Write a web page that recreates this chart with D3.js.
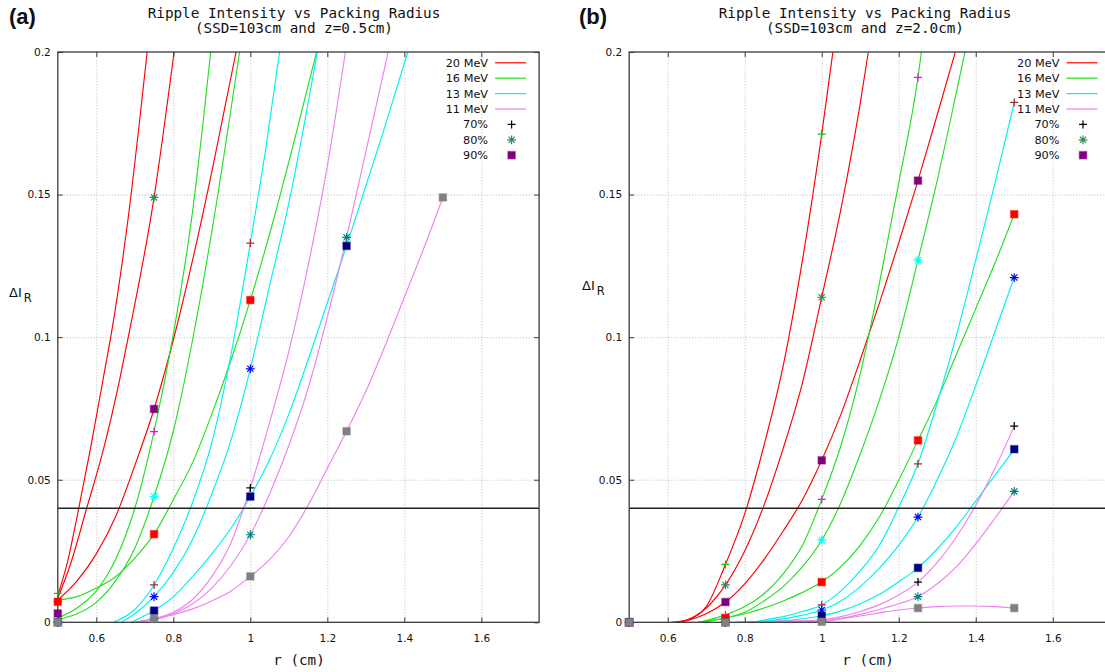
<!DOCTYPE html>
<html><head><meta charset="utf-8">
<script src="https://cdn.jsdelivr.net/npm/d3@7"></script>
<style>body{margin:0;background:#fff}svg{display:block}</style>
</head><body>
<svg id="c" width="1105" height="672"></svg>
<script>
// ---------- categories / ticks ----------
const energies = ["20 MeV", "16 MeV", "13 MeV", "11 MeV"];
const percents = ["70%", "80%", "90%"];
const rPoints = [0.5, 0.75, 1.0, 1.25, 1.5];
const xTicks = [0.6, 0.8, 1.0, 1.2, 1.4, 1.6];
const xTickLabels = ["0.6", "0.8", "1", "1.2", "1.4", "1.6"];
const yTicks = [0, 0.05, 0.1, 0.15, 0.2];
const yTickLabels = ["0", "0.05", "0.1", "0.15", "0.2"];
const xDomain = [0.5, 1.75];
const yDomain = [0, 0.2];
const thresholdValue = 0.04;

// ---------- panel (a): measured points (r = 0.5, 0.75, 1.0, 1.25, 1.5; null = above 0.2) ----------
const a20_70 = [0.0101, null, null, null, null];
const a20_80 = [0.0072, 0.149, null, null, null];
const a20_90 = [0.0031, 0.0748, null, null, null];
const a16_70 = [0, 0.0669, null, null, null];
const a16_80 = [0, 0.0441, null, null, null];
const a16_90 = [0.0072, 0.0309, 0.113, null, null];
const a13_70 = [0, 0.0131, 0.133, null, null];
const a13_80 = [0, 0.0090, 0.0889, null, null];
const a13_90 = [0, 0.0041, 0.0441, 0.132, null];
const a11_70 = [0, 0.0012, 0.0471, null, null];
const a11_80 = [0, 0.0012, 0.0307, 0.135, null];
const a11_90 = [0, 0.0013, 0.0161, 0.067, 0.149];

// ---------- panel (a): curves [r, dI] ----------
const la20_70 = [[0.5,0.0095],[0.525,0.021],[0.55,0.037],[0.585,0.061],[0.62,0.087],[0.64,0.102],[0.682,0.141],[0.732,0.2]];
const la20_80 = [[0.5,0.0085],[0.532,0.02],[0.575,0.04],[0.618,0.0604],[0.66,0.0847],[0.683,0.1],[0.75,0.149],[0.802,0.2]];
const la20_90 = [[0.5,0.0078],[0.55,0.0145],[0.6,0.024],[0.65,0.037],[0.7,0.055],[0.75,0.0748],[0.8,0.099],[0.85,0.127],[0.9,0.158],[0.963,0.2]];
const la16_70 = [[0.5,0.0015],[0.55,0.005],[0.6,0.011],[0.65,0.022],[0.7,0.04],[0.75,0.0669],[0.8,0.101],[0.85,0.144],[0.897,0.2]];
const la16_80 = [[0.5,0.001],[0.55,0.003],[0.6,0.007],[0.65,0.0145],[0.7,0.026],[0.75,0.0441],[0.8,0.067],[0.85,0.099],[0.9,0.137],[0.972,0.2]];
const la16_90 = [[0.5,0.0078],[0.55,0.009],[0.6,0.012],[0.65,0.016],[0.7,0.0225],[0.75,0.0309],[0.8,0.043],[0.85,0.056],[0.9,0.073],[0.95,0.092],[1.0,0.113],[1.06,0.141],[1.12,0.172],[1.172,0.2]];
const la13_70 = [[0.645,0],[0.7,0.0045],[0.75,0.0131],[0.8,0.026],[0.85,0.042],[0.9,0.063],[0.95,0.094],[1.0,0.133],[1.04,0.166],[1.076,0.2]];
const la13_80 = [[0.665,0],[0.7,0.003],[0.75,0.009],[0.8,0.0175],[0.85,0.029],[0.9,0.045],[0.95,0.064],[1.0,0.0889],[1.05,0.118],[1.1,0.147],[1.174,0.2]];
const la13_90 = [[0.69,0],[0.75,0.0041],[0.8,0.009],[0.85,0.016],[0.9,0.024],[0.95,0.033],[1.0,0.0441],[1.05,0.057],[1.1,0.073],[1.15,0.092],[1.2,0.112],[1.25,0.132],[1.3,0.153],[1.35,0.174],[1.409,0.2]];
const la11_70 = [[0.7,0],[0.75,0.0012],[0.8,0.0035],[0.85,0.008],[0.9,0.016],[0.95,0.028],[1.0,0.0471],[1.05,0.070],[1.1,0.095],[1.15,0.125],[1.2,0.16],[1.247,0.2]];
const la11_80 = [[0.7,0],[0.75,0.0008],[0.8,0.003],[0.85,0.0065],[0.9,0.012],[0.95,0.020],[1.0,0.0307],[1.05,0.045],[1.1,0.062],[1.15,0.082],[1.2,0.107],[1.25,0.135],[1.3,0.165],[1.358,0.2]];
const la11_90 = [[0.7,0],[0.75,0.0013],[0.8,0.0027],[0.85,0.0047],[0.9,0.0075],[0.95,0.011],[1.0,0.0161],[1.05,0.022],[1.1,0.030],[1.15,0.041],[1.2,0.054],[1.25,0.067],[1.3,0.081],[1.35,0.097],[1.4,0.114],[1.45,0.131],[1.5,0.149]];

// ---------- panel (b): measured points ----------
const b20_70 = [0, 0.0203, 0.1712, null, null];
const b20_80 = [0, 0.0131, 0.114, null, null];
const b20_90 = [0, 0.0071, 0.0568, 0.1549, null];
const b16_70 = [0, 0.0026, 0.0431, 0.1911, null];
const b16_80 = [0, 0.0015, 0.0288, 0.127, null];
const b16_90 = [0, 0.0015, 0.0141, 0.0638, 0.1431];
const b13_70 = [0, 0, 0.0061, 0.0556, 0.1823];
const b13_80 = [0, 0, 0.0043, 0.0369, 0.1209];
const b13_90 = [0, 0, 0.0023, 0.0191, 0.0607];
const b11_70 = [0, 0, 0.0008, 0.0141, 0.0688];
const b11_80 = [0, 0, 0.0005, 0.009, 0.0459];
const b11_90 = [0, 0, 0.0002, 0.005, 0.005];

// ---------- panel (b): curves ----------
const lb20_70 = [[0.61,0],[0.65,0.0008],[0.7,0.0055],[0.75,0.0203],[0.8,0.038],[0.85,0.062],[0.9,0.09],[0.95,0.127],[1.0,0.1712],[1.029,0.2]];
const lb20_80 = [[0.62,0],[0.65,0.0008],[0.7,0.005],[0.75,0.0131],[0.8,0.025],[0.85,0.041],[0.9,0.061],[0.95,0.084],[1.0,0.114],[1.05,0.145],[1.1,0.182],[1.121,0.2]];
const lb20_90 = [[0.62,0],[0.65,0.0006],[0.7,0.003],[0.75,0.0071],[0.8,0.0135],[0.85,0.022],[0.9,0.032],[0.95,0.043],[1.0,0.0568],[1.05,0.073],[1.1,0.092],[1.15,0.112],[1.2,0.133],[1.25,0.1549],[1.3,0.178],[1.347,0.2]];
const lb16_70 = [[0.68,0],[0.7,0.0006],[0.75,0.0026],[0.8,0.0055],[0.85,0.010],[0.9,0.017],[0.95,0.027],[1.0,0.0431],[1.05,0.062],[1.1,0.087],[1.15,0.119],[1.2,0.154],[1.25,0.1911],[1.259,0.2]];
const lb16_80 = [[0.68,0],[0.7,0.0004],[0.75,0.0015],[0.8,0.0035],[0.85,0.0075],[0.9,0.0125],[0.95,0.0195],[1.0,0.0288],[1.05,0.042],[1.1,0.059],[1.15,0.078],[1.2,0.1],[1.25,0.127],[1.3,0.155],[1.35,0.186],[1.372,0.2]];
const lb16_90 = [[0.68,0],[0.7,0.0003],[0.75,0.0015],[0.8,0.003],[0.85,0.005],[0.9,0.0075],[0.95,0.0105],[1.0,0.0141],[1.05,0.0195],[1.1,0.027],[1.15,0.037],[1.2,0.0498],[1.25,0.0638],[1.3,0.078],[1.35,0.094],[1.4,0.110],[1.45,0.126],[1.5,0.1431]];
const lb13_70 = [[0.82,0],[0.85,0.0008],[0.9,0.002],[0.95,0.0038],[1.0,0.0061],[1.05,0.011],[1.1,0.018],[1.15,0.027],[1.2,0.0404],[1.25,0.0556],[1.3,0.077],[1.354,0.1027],[1.4,0.127],[1.45,0.154],[1.5,0.1823]];
const lb13_80 = [[0.82,0],[0.9,0.0012],[0.95,0.0025],[1.0,0.0043],[1.05,0.0075],[1.1,0.0125],[1.15,0.019],[1.2,0.027],[1.25,0.0369],[1.3,0.05],[1.35,0.065],[1.4,0.083],[1.45,0.102],[1.5,0.1209]];
const lb13_90 = [[0.82,0],[0.9,0.0005],[1.0,0.0023],[1.05,0.004],[1.1,0.0065],[1.15,0.0098],[1.2,0.0142],[1.25,0.0191],[1.3,0.0257],[1.35,0.0335],[1.4,0.0425],[1.45,0.0515],[1.5,0.0607]];
const lb11_70 = [[0.78,0],[0.9,0.0004],[1.0,0.0008],[1.05,0.002],[1.1,0.0038],[1.15,0.0062],[1.2,0.0096],[1.25,0.0141],[1.3,0.021],[1.35,0.030],[1.4,0.041],[1.45,0.054],[1.5,0.0688]];
const lb11_80 = [[0.78,0],[0.9,0.0003],[1.0,0.0005],[1.05,0.0014],[1.1,0.0028],[1.15,0.0045],[1.2,0.0065],[1.25,0.009],[1.3,0.0135],[1.35,0.0195],[1.4,0.0275],[1.45,0.0365],[1.5,0.0459]];
const lb11_90 = [[0.78,0],[0.9,0.0001],[1.0,0.0002],[1.05,0.0012],[1.1,0.0022],[1.15,0.0033],[1.2,0.0043],[1.25,0.005],[1.3,0.0055],[1.35,0.0057],[1.4,0.0057],[1.45,0.0055],[1.5,0.005]];

// ---------- styles ----------
const energyColors = ["#ff0000", "#22e022", "#00f0f0", "#ee82ee"];
const markerColors70 = ["#00cc00", "#ff00ff", "#a52a2a", "#000000"];
const markerColors80 = ["#2e8b57", "#00ffff", "#0000ff", "#008080"];
const markerColors90 = ["#800080", "#ff0000", "#000080", "#808080"];
const legendMarkerColors = ["#000000", "#2e8b57", "#800080"];
const markerShapes = ["plus", "star", "square"];

const svg = d3.select("#c");
svg.append("rect").attr("width", 1105).attr("height", 672).attr("fill", "#fff");
const defs = svg.append("defs");

const yTop = 52, yBot = 622.3;

function marker(g, shape, color) {
  if (shape === "plus") {
    g.append("path").attr("d", "M-4,0H4M0,-4V4").attr("stroke", color).attr("stroke-width", 1.25).attr("fill", "none");
  } else if (shape === "star") {
    g.append("path").attr("d", "M-4.4,0H4.4M0,-4.4V4.4M-3.1,-3.1L3.1,3.1M-3.1,3.1L3.1,-3.1").attr("stroke", color).attr("stroke-width", 1.15).attr("fill", "none");
  } else {
    g.append("rect").attr("x", -3.7).attr("y", -3.7).attr("width", 7.4).attr("height", 7.4)
      .attr("fill", color).attr("stroke", color).attr("stroke-opacity", 0.4).attr("stroke-width", 1.4);
  }
}

function drawPanel(cfg) {
  const x = d3.scaleLinear().domain(xDomain).range([cfg.x0, cfg.x1]);
  const y = d3.scaleLinear().domain(yDomain).range([yBot, yTop]);
  const g = svg.append("g");
  const clipId = "clip" + cfg.id;
  defs.append("clipPath").attr("id", clipId).append("rect")
    .attr("x", x(xDomain[0])).attr("y", y(yDomain[1]))
    .attr("width", x(xDomain[1]) - x(xDomain[0])).attr("height", y(yDomain[0]) - y(yDomain[1]));

  // grid
  g.append("g").attr("transform", `translate(0,${yBot})`)
    .call(d3.axisBottom(x).tickValues(xTicks).tickSize(-(yBot - yTop)).tickFormat(""))
    .call(s => { s.select(".domain").remove(); s.selectAll("line").attr("stroke", "#bdbdbd").attr("stroke-dasharray", "1,2"); });
  g.append("g").attr("transform", `translate(${cfg.x0},0)`)
    .call(d3.axisLeft(y).tickValues(yTicks.slice(1, -1)).tickSize(-(x(xDomain[1]) - cfg.x0)).tickFormat(""))
    .call(s => { s.select(".domain").remove(); s.selectAll("line").attr("stroke", "#bdbdbd").attr("stroke-dasharray", "1,2"); });

  // curves
  const lineGen = d3.line().x(d => x(d[0])).y(d => y(d[1])).curve(d3.curveMonotoneX);
  const lg = g.append("g").attr("clip-path", `url(#${clipId})`);
  cfg.curves.forEach((set, ei) => {
    set.forEach(data => {
      lg.append("path").attr("d", lineGen(data)).attr("fill", "none")
        .attr("stroke", energyColors[ei]).attr("stroke-width", 1.15);
    });
  });

  // threshold line
  g.append("line").attr("x1", x(xDomain[0])).attr("x2", x(xDomain[1]))
    .attr("y1", y(thresholdValue)).attr("y2", y(thresholdValue))
    .attr("stroke", "#222").attr("stroke-width", 1.3);

  // border
  g.append("rect").attr("x", x(xDomain[0])).attr("y", y(yDomain[1]))
    .attr("width", x(xDomain[1]) - x(xDomain[0])).attr("height", y(yDomain[0]) - y(yDomain[1]))
    .attr("fill", "none").attr("stroke", "#3a3a3a").attr("stroke-width", 1.3);

  // axes
  const styleAxis = s => {
    s.select(".domain").remove();
    s.selectAll("line").attr("stroke", "#3a3a3a");
    s.selectAll("text").attr("font-family", "DejaVu Sans, Verdana, sans-serif").attr("font-size", 10.5).attr("fill", "#111");
  };
  g.append("g").attr("transform", `translate(0,${yBot})`)
    .call(d3.axisBottom(x).tickValues(xTicks).tickFormat((d, i) => xTickLabels[i]).tickSizeInner(-5).tickSizeOuter(0).tickPadding(12))
    .call(styleAxis);
  g.append("g").attr("transform", `translate(0,${yTop})`)
    .call(d3.axisTop(x).tickValues(xTicks).tickFormat("").tickSizeInner(-5).tickSizeOuter(0))
    .call(styleAxis);
  g.append("g").attr("transform", `translate(${cfg.x0},0)`)
    .call(d3.axisLeft(y).tickValues(yTicks).tickFormat((d, i) => yTickLabels[i]).tickSizeInner(-5).tickSizeOuter(0).tickPadding(7))
    .call(styleAxis);
  g.append("g").attr("transform", `translate(${x(xDomain[1])},0)`)
    .call(d3.axisRight(y).tickValues(yTicks).tickFormat("").tickSizeInner(-5).tickSizeOuter(0))
    .call(styleAxis);

  // markers (70% set, then 80%, then 90%)
  const mg = g.append("g");
  const colorSets = [markerColors70, markerColors80, markerColors90];
  percents.forEach((p, pi) => {
    cfg.points.forEach((row, ei) => {
      row[pi].forEach((v, k) => {
        if (v === null) return;
        const m = mg.append("g").attr("transform", `translate(${x(rPoints[k])},${y(v)})`);
        marker(m, markerShapes[pi], colorSets[pi][ei]);
      });
    });
  });

  // legend
  const right = x(xDomain[1]);
  const leg = g.append("g").attr("font-family", "DejaVu Sans, Verdana, sans-serif").attr("font-size", 11.3).attr("fill", "#111");
  const rowY = i => yTop + 10.8 + i * 15.4;
  energies.forEach((e, i) => {
    leg.append("text").attr("x", right - 51).attr("y", rowY(i) + 4).attr("text-anchor", "end").text(e);
    leg.append("line").attr("x1", right - 44).attr("x2", right - 13).attr("y1", rowY(i)).attr("y2", rowY(i))
      .attr("stroke", energyColors[i]).attr("stroke-width", 1.2);
  });
  percents.forEach((p, i) => {
    const r = energies.length + i;
    leg.append("text").attr("x", right - 51).attr("y", rowY(r) + 4).attr("text-anchor", "end").text(p);
    const m = leg.append("g").attr("transform", `translate(${right - 27.5},${rowY(r)})`);
    marker(m, markerShapes[i], legendMarkerColors[i]);
  });

  // titles and labels
  const mono = "DejaVu Sans Mono, Liberation Mono, monospace";
  svg.append("text").attr("x", cfg.titleX).attr("y", 18).attr("text-anchor", "middle")
    .attr("font-family", mono).attr("font-size", 14.3).attr("fill", "#111").text(cfg.title1);
  svg.append("text").attr("x", cfg.titleX).attr("y", 33).attr("text-anchor", "middle")
    .attr("font-family", mono).attr("font-size", 14.3).attr("fill", "#111").text(cfg.title2);
  svg.append("text").attr("x", cfg.xlabelX).attr("y", 665).attr("text-anchor", "middle")
    .attr("font-family", mono).attr("font-size", 14.3).attr("fill", "#111").text("r (cm)");
  svg.append("text").attr("x", cfg.tagX).attr("y", 23.5)
    .attr("font-family", "Liberation Sans, Arial, sans-serif").attr("font-weight", "bold")
    .attr("font-size", 22).attr("fill", "#111").text(cfg.tag);
  const yl = svg.append("text").attr("x", cfg.ylabX).attr("y", cfg.ylabY)
    .attr("font-family", "DejaVu Sans, Verdana, sans-serif").attr("font-size", 13).attr("fill", "#111");
  yl.append("tspan").text("ΔI");
  yl.append("tspan").attr("dx", 2).attr("dy", 5).attr("font-size", 11.5).text("R");
}

drawPanel({
  id: "a", x0: 57.8, x1: 539.1, tag: "(a)", tagX: 9,
  title1: "Ripple Intensity vs Packing Radius", title2: "(SSD=103cm and z=0.5cm)",
  titleX: 294, xlabelX: 299, ylabX: 9, ylabY: 297,
  curves: [[la20_70, la20_80, la20_90], [la16_70, la16_80, la16_90], [la13_70, la13_80, la13_90], [la11_70, la11_80, la11_90]],
  points: [[a20_70, a20_80, a20_90], [a16_70, a16_80, a16_90], [a13_70, a13_80, a13_90], [a11_70, a11_80, a11_90]]
});
drawPanel({
  id: "b", x0: 629.2, x1: 1110.5, tag: "(b)", tagX: 579,
  title1: "Ripple Intensity vs Packing Radius", title2: "(SSD=103cm and z=2.0cm)",
  titleX: 865, xlabelX: 868, ylabX: 582, ylabY: 290,
  curves: [[lb20_70, lb20_80, lb20_90], [lb16_70, lb16_80, lb16_90], [lb13_70, lb13_80, lb13_90], [lb11_70, lb11_80, lb11_90]],
  points: [[b20_70, b20_80, b20_90], [b16_70, b16_80, b16_90], [b13_70, b13_80, b13_90], [b11_70, b11_80, b11_90]]
});
</script>
</body></html>
